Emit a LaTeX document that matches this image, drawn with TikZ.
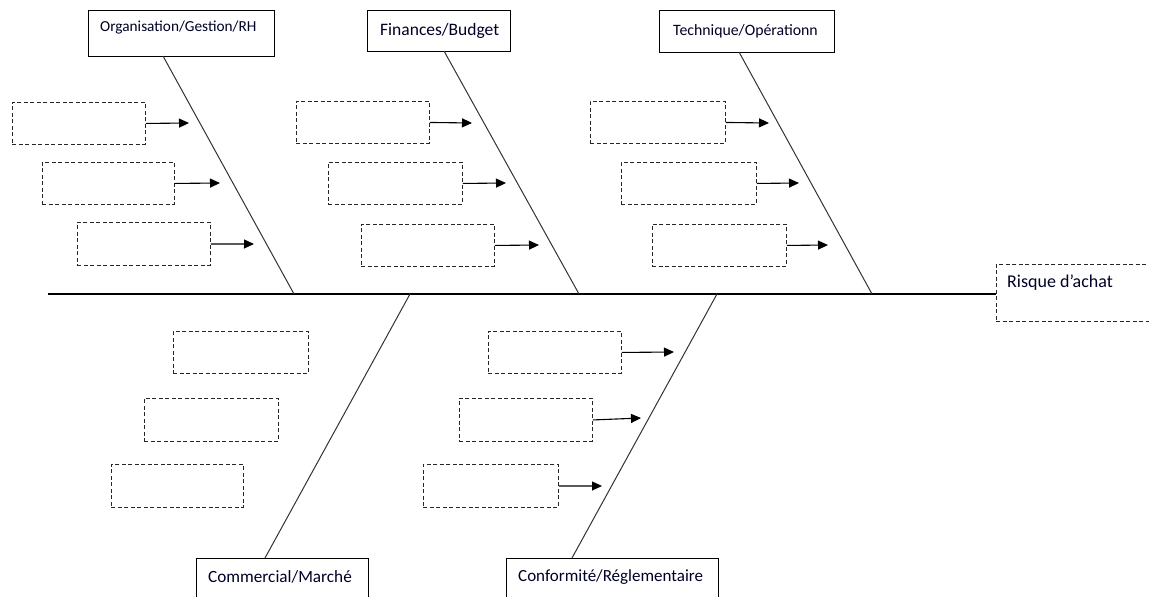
\documentclass[tikz,border=0pt]{standalone}
\usepackage{fontspec}
\setmainfont{Carlito}
\usetikzlibrary{arrows.meta}

\begin{document}
\begin{tikzpicture}[x=1pt,y=-1pt,
  catbox/.style={draw=black, line width=1.3pt, fill=white, inner sep=0pt, anchor=north west},
  causebox/.style={draw=black!85, line width=0.9pt, dash pattern=on 4pt off 2.5pt,
                   inner sep=0pt, anchor=north west, minimum width=133pt, minimum height=42pt},
  bone/.style={draw=black!80, line width=1pt},
  spine/.style={draw=black, line width=1.3pt},
  feed/.style={draw=black, line width=1.1pt, -{Triangle[length=10pt,width=9pt]}},
  lbl/.style={inner sep=0pt, text=black!85!blue},
  fs/.style={font=\fontsize{#1}{#1}\selectfont},
]
\useasboundingbox (0,0) rectangle (1149,597);
\clip (0,0) rectangle (1149,597);

% ---------- effect box ----------
\node[causebox, minimum width=170pt, minimum height=57pt] (risk) at (996,264) {};
\node[lbl, fs=18, anchor=west] (risktxt) at (1007,283) {Risque d’achat};

% ---------- spine ----------
\coordinate (tail) at (48,294);
\draw[spine] (tail) -- (risk.west |- tail);

% ---------- category boxes (top) ----------
\node[catbox, minimum width=186pt, minimum height=46pt] (org) at (88,10) {};
\node[lbl, fs=15.3, anchor=west] (orgtxt) at (100,28) {Organisation/Gestion/RH};
\node[catbox, minimum width=143pt, minimum height=41pt] (fin) at (367,10) {};
\node[lbl, fs=17.5, anchor=west] (fintxt) at (380,31) {Finances/Budget};
\node[catbox, minimum width=175pt, minimum height=42pt] (tech) at (659,10) {};
\node[lbl, fs=15.8, anchor=west] (techtxt) at (673,31) {Technique/Opérationn};

% ---------- category boxes (bottom) ----------
\node[catbox, minimum width=172pt, minimum height=60pt] (comm) at (196,558) {};
\node[lbl, fs=17.2, anchor=west] (commtxt) at (208,577) {Commercial/Marché};
\node[catbox, minimum width=212pt, minimum height=60pt] (conf) at (506,558) {};
\node[lbl, fs=17, anchor=west] (conftxt) at (518,577) {Conformité/Réglementaire};

% ---------- bone ends ----------
\coordinate (orgA) at (163,56);   \coordinate (orgB) at (294,294);
\coordinate (finA) at (444,51);   \coordinate (finB) at (579,294);
\coordinate (techA) at (739,52);  \coordinate (techB) at (872,294);
\coordinate (commA) at (265,558); \coordinate (commB) at (410,294);
\coordinate (confA) at (572,558); \coordinate (confB) at (717,294);

\draw[bone] (orgA) -- (orgB);
\draw[bone] (finA) -- (finB);
\draw[bone] (techA) -- (techB);
\draw[bone] (commA) -- (commB);
\draw[bone] (confA) -- (confB);

% ---------- cause boxes: Organisation ----------
\node[causebox] (o1) at (12,102) {};
\node[causebox, minimum width=132pt] (o2) at (42,162) {};
\node[causebox, minimum height=43pt] (o3) at (77,222) {};
\coordinate (o1t) at (189,123);
\coordinate (o2t) at (220,183);
\coordinate (o3t) at (254,244);
\draw[feed] (o1.east) -- (o1t);
\draw[feed] (o2.east) -- (o2t);
\draw[feed] (o3.east) -- (o3t);

% ---------- cause boxes: Finances ----------
\node[causebox] (f1) at (296,101) {};
\node[causebox, minimum width=134pt] (f2) at (328,162) {};
\node[causebox] (f3) at (361,224) {};
\coordinate (f1t) at (472,123);
\coordinate (f2t) at (506,183);
\coordinate (f3t) at (539,245);
\draw[feed] (f1.east) -- (f1t);
\draw[feed] (f2.east) -- (f2t);
\draw[feed] (f3.east) -- (f3t);

% ---------- cause boxes: Technique ----------
\node[causebox, minimum width=135pt] (t1) at (590,101) {};
\node[causebox, minimum width=135pt] (t2) at (621,162) {};
\node[causebox, minimum width=134pt] (t3) at (652,224) {};
\coordinate (t1t) at (769,123);
\coordinate (t2t) at (799,183);
\coordinate (t3t) at (828,245);
\draw[feed] (t1.east) -- (t1t);
\draw[feed] (t2.east) -- (t2t);
\draw[feed] (t3.east) -- (t3t);

% ---------- cause boxes: Commercial ----------
\node[causebox, minimum width=135pt] (c1) at (173,331) {};
\node[causebox, minimum width=134pt, minimum height=43pt] (c2) at (144,398) {};
\node[causebox, minimum width=132pt, minimum height=43pt] (c3) at (111,464) {};

% ---------- cause boxes: Conformite ----------
\node[causebox] (r1) at (488,331) {};
\node[causebox, minimum height=43pt] (r2) at (459,398) {};
\node[causebox, minimum width=135pt, minimum height=43pt] (r3) at (423,464) {};
\coordinate (r1t) at (674,352);
\coordinate (r2t) at (641,418);
\coordinate (r3t) at (602,486);
\draw[feed] (r1.east) -- (r1t);
\draw[feed] (r2.east) -- (r2t);
\draw[feed] (r3.east) -- (r3t);
\end{tikzpicture}
\end{document}
